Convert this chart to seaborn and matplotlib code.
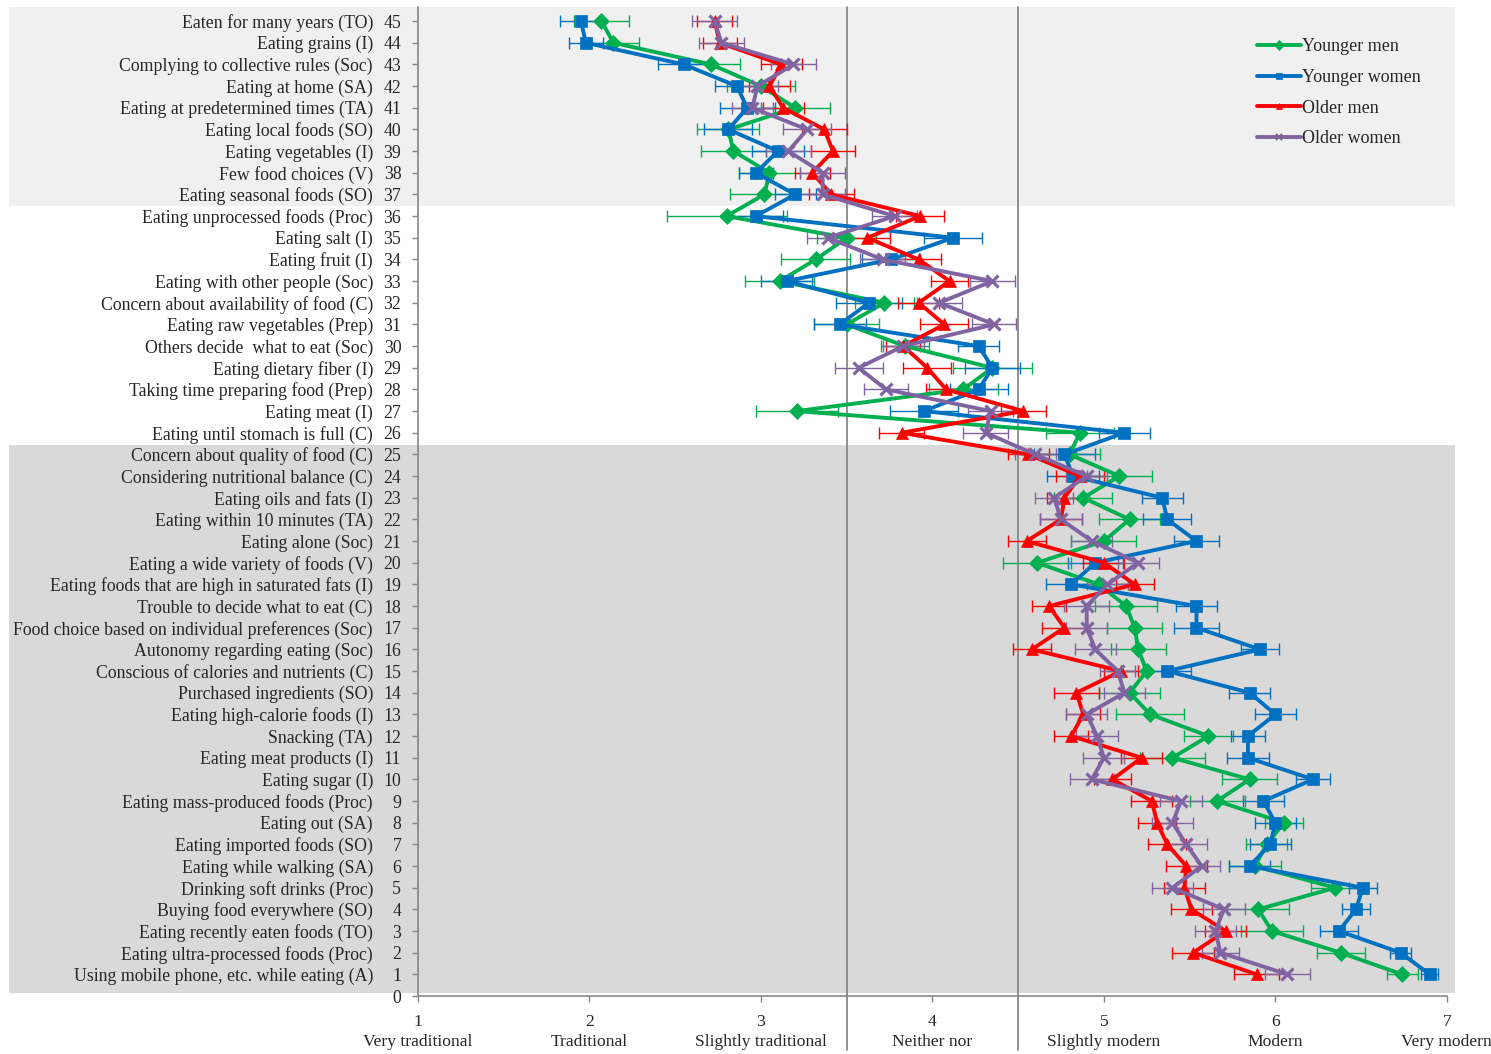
import matplotlib
matplotlib.use("Agg")
import matplotlib.pyplot as plt
from matplotlib.lines import Line2D
import numpy as np
import pandas as pd
import seaborn as sns

# item labels, item 1 at the bottom
items = [
    "Using mobile phone, etc. while eating (A)",
    "Eating ultra-processed foods (Proc)",
    "Eating recently eaten foods (TO)",
    "Buying food everywhere (SO)",
    "Drinking soft drinks (Proc)",
    "Eating while walking (SA)",
    "Eating imported foods (SO)",
    "Eating out (SA)",
    "Eating mass-produced foods (Proc)",
    "Eating sugar (I)",
    "Eating meat products (I)",
    "Snacking (TA)",
    "Eating high-calorie foods (I)",
    "Purchased ingredients (SO)",
    "Conscious of calories and nutrients (C)",
    "Autonomy regarding eating (Soc)",
    "Food choice based on individual preferences (Soc)",
    "Trouble to decide what to eat (C)",
    "Eating foods that are high in saturated fats (I)",
    "Eating a wide variety of foods (V)",
    "Eating alone (Soc)",
    "Eating within 10 minutes (TA)",
    "Eating oils and fats (I)",
    "Considering nutritional balance (C)",
    "Concern about quality of food (C)",
    "Eating until stomach is full (C)",
    "Eating meat (I)",
    "Taking time preparing food (Prep)",
    "Eating dietary fiber (I)",
    "Others decide  what to eat (Soc)",
    "Eating raw vegetables (Prep)",
    "Concern about availability of food (C)",
    "Eating with other people (Soc)",
    "Eating fruit (I)",
    "Eating salt (I)",
    "Eating unprocessed foods (Proc)",
    "Eating seasonal foods (SO)",
    "Few food choices (V)",
    "Eating vegetables (I)",
    "Eating local foods (SO)",
    "Eating at predetermined times (TA)",
    "Eating at home (SA)",
    "Complying to collective rules (Soc)",
    "Eating grains (I)",
    "Eaten for many years (TO)",
]

younger_men = [6.74, 6.38, 5.98, 5.90, 6.35, 5.88, 5.95, 6.05, 5.66, 5.85,
               5.40, 5.61, 5.27, 5.15, 5.25, 5.20, 5.18, 5.13, 4.97, 4.61,
               5.00, 5.15, 4.88, 5.09, 4.80, 4.86, 3.21, 4.18, 4.35, 3.84,
               3.50, 3.72, 3.11, 3.32, 3.50, 2.80, 3.02, 3.05, 2.84, 2.81,
               3.20, 3.00, 2.71, 2.14, 2.07]
younger_men_err = [.09, .14, .18, .18, .14, .15, .12, .11, .16, .16,
                   .19, .14, .20, .18, .15, .16, .16, .18, .17, .20,
                   .19, .18, .17, .19, .18, .20, .24, .20, .23, .14,
                   .19, .17, .20, .20, .17, .35, .20, .18, .19, .18,
                   .20, .20, .17, .15, .16]

younger_women = [6.90, 6.73, 6.37, 6.47, 6.51, 5.85, 5.97, 6.00, 5.93, 6.22,
                 5.84, 5.84, 6.00, 5.85, 5.37, 5.91, 5.54, 5.54, 4.81, 4.95,
                 5.54, 5.37, 5.34, 4.82, 4.77, 5.12, 3.95, 4.27, 4.35, 4.27,
                 3.46, 3.63, 3.15, 3.76, 4.12, 2.97, 3.20, 2.97, 3.10, 2.81,
                 2.92, 2.86, 2.55, 1.98, 1.95]
younger_women_err = [.05, .06, .11, .08, .08, .12, .12, .12, .12, .10,
                     .12, .10, .12, .12, .14, .11, .13, .12, .15, .16,
                     .13, .14, .12, .15, .18, .15, .20, .17, .16, .12,
                     .15, .19, .15, .17, .17, .16, .12, .10, .15, .14,
                     .16, .13, .15, .10, .12]

older_men = [5.89, 5.52, 5.71, 5.51, 5.47, 5.48, 5.37, 5.31, 5.28, 5.05,
             5.22, 4.81, 4.88, 4.84, 5.10, 4.58, 4.77, 4.68, 5.18, 5.00,
             4.55, 4.75, 4.77, 4.86, 4.56, 3.82, 4.53, 4.08, 3.97, 3.83,
             4.07, 3.92, 4.10, 3.92, 3.62, 3.93, 3.41, 3.30, 3.42, 3.37,
             3.13, 3.05, 3.12, 2.76, 2.73]
older_men_err = [.13, .12, .12, .12, .12, .12, .11, .11, .12, .11,
                 .12, .10, .10, .13, .10, .11, .13, .10, .11, .12,
                 .11, .12, .10, .14, .12, .13, .13, .12, .14, .10,
                 .14, .12, .11, .13, .13, .14, .13, .10, .13, .13,
                 .12, .12, .12, .10, .10]

older_women = [6.07, 5.68, 5.65, 5.70, 5.40, 5.57, 5.48, 5.40, 5.45, 4.93,
               5.00, 4.96, 4.90, 5.12, 5.08, 4.95, 4.90, 4.90, 5.02, 5.20,
               4.93, 4.75, 4.71, 4.90, 4.60, 4.31, 4.34, 3.73, 3.57, 3.83,
               4.36, 4.04, 4.35, 3.71, 3.39, 3.78, 3.36, 3.36, 3.16, 3.27,
               2.95, 2.98, 3.19, 2.77, 2.73]
older_women_err = [.13, .11, .12, .12, .12, .11, .12, .12, .12, .13,
                   .12, .12, .12, .12, .10, .12, .12, .13, .12, .12,
                   .12, .12, .11, .12, .12, .13, .13, .13, .14, .12,
                   .13, .13, .13, .13, .12, .13, .13, .13, .13, .14,
                   .12, .12, .13, .13, .13]

groups = ["Younger men", "Younger women", "Older men", "Older women"]
x_ticks = [1, 2, 3, 4, 5, 6, 7]
x_names = ["Very traditional", "Traditional", "Slightly traditional",
           "Neither nor", "Slightly modern", "Modern", "Very modern"]

colors = {"Younger men": "#00b050", "Younger women": "#0070c0",
          "Older men": "#ff0000", "Older women": "#8064a2"}
marks = {"Younger men": "D", "Younger women": "s",
         "Older men": "^", "Older women": "x"}

values = {"Younger men": younger_men, "Younger women": younger_women,
          "Older men": older_men, "Older women": older_women}
errors = {"Younger men": younger_men_err, "Younger women": younger_women_err,
          "Older men": older_men_err, "Older women": older_women_err}

num = np.arange(1, len(items) + 1)
df = pd.concat([pd.DataFrame({"item": num, "score": values[g], "group": g})
                for g in groups], ignore_index=True)

sns.set_style("white")
plt.rcParams['font.family'] = ['Liberation Serif', 'DejaVu Serif']

fig = plt.figure(figsize=(14.91, 10.54), dpi=100)
ax = fig.add_axes([0.2803, 0.0550, 0.6901, 0.9383])

# background bands
ax.axhspan(36.45, 45.65, xmin=-0.397, xmax=1.008, color="#f0f0f0",
           zorder=0, clip_on=False, lw=0)
ax.axhspan(0.14, 25.45, xmin=-0.397, xmax=1.008, color="#d9d9d9",
           zorder=0, clip_on=False, lw=0)

for xv in [3.5, 4.5]:
    ax.axvline(xv, ymin=-0.055, ymax=1, color="#7f7f7f", lw=1.2,
               clip_on=False, zorder=1)

for g in groups:
    ax.errorbar(values[g], num, xerr=errors[g], fmt="none", ecolor=colors[g],
                elinewidth=1.0, capsize=4, capthick=1.0, zorder=2)

for g in groups:
    sub = df[df["group"] == g]
    is_x = marks[g] == "x"
    sns.lineplot(data=sub, x="score", y="item", color=colors[g],
                 marker=marks[g], sort=False, estimator=None,
                 linewidth=2.8, markersize=9 if is_x else 8.5,
                 markeredgecolor=colors[g], markerfacecolor=colors[g],
                 markeredgewidth=2.3 if is_x else 0.5,
                 legend=False, ax=ax, zorder=3)

ax.set_xlim(1, 7)
ax.set_ylim(0, 45.65)
ax.set_xticks(x_ticks)
ax.set_xticklabels([f"{t}\n{n}" for t, n in zip(x_ticks, x_names)],
                   fontsize=12.6, linespacing=1.3)
ax.set_yticks(range(0, len(items) + 1))
ax.set_yticklabels([str(i) for i in range(0, len(items) + 1)], fontsize=12.8)

# item names in their own column left of the numbers
ytrans = ax.get_yaxis_transform()
for i, name in zip(num, items):
    ax.text(-0.0437, i, name, transform=ytrans, ha="right",
            va="center_baseline", fontsize=12.8)

ax.tick_params(axis="both", which="both", direction="out", length=4,
               width=1, color="#868686", left=True, bottom=True)
ax.tick_params(axis="x", pad=9)
ax.tick_params(axis="y", pad=8)
ax.set_xlabel("")
ax.set_ylabel("")
for s in ["top", "right"]:
    ax.spines[s].set_visible(False)
for s in ["left", "bottom"]:
    ax.spines[s].set_color("#868686")
    ax.spines[s].set_linewidth(1.2)
ax.set_facecolor("none")
ax.grid(False)

handles = [Line2D([0], [0], color=colors[g], marker=marks[g], lw=2.8,
                  markersize=5, markeredgewidth=1.5 if marks[g] == "x" else 0.5,
                  markeredgecolor=colors[g]) for g in groups]
ax.legend(handles, groups, loc="upper left", bbox_to_anchor=(0.8, 0.985),
          frameon=False, fontsize=13, handlelength=2.4, handletextpad=0.1,
          labelspacing=0.76)

fig.savefig("out.png", dpi=100)
